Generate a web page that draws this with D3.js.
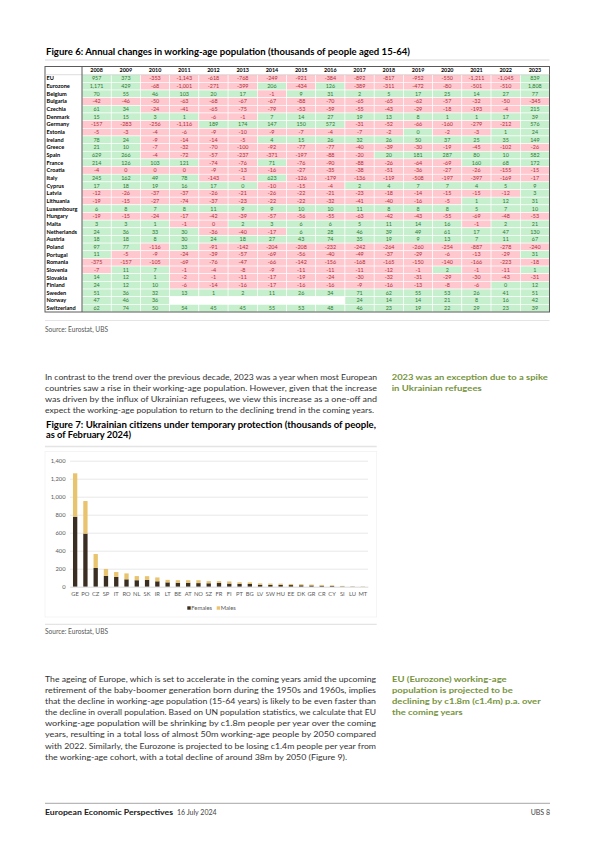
<!DOCTYPE html>
<html><head><meta charset="utf-8">
<script src="https://cdn.jsdelivr.net/npm/d3@7"></script>
<style>html,body{margin:0;padding:0;background:#fff}svg{display:block}</style>
</head><body>
<svg id="page" width="595" height="842"></svg>
<script>
// ---------- DATA: Figure 6 ----------
const years = [2008,2009,2010,2011,2012,2013,2014,2015,2016,2017,2018,2019,2020,2021,2022,2023];
const countries = ["EU","Eurozone","Belgium","Bulgaria","Czechia","Denmark","Germany","Estonia","Ireland","Greece","Spain","France","Croatia","Italy","Cyprus","Latvia","Lithuania","Luxembourg","Hungary","Malta","Netherlands","Austria","Poland","Portugal","Romania","Slovenia","Slovakia","Finland","Sweden","Norway","Switzerland"];
// -0 marks a value that rounds to 0 but was negative (shown pink)
const tableValues = [
  [957,373,-353,-1143,-618,-768,-249,-921,-384,-892,-817,-952,-550,-1211,-1045,839],
  [1171,429,-68,-1001,-271,-399,206,-434,126,-389,-311,-472,-80,-501,-510,1808],
  [70,55,46,103,20,17,-1,9,31,2,5,17,25,14,27,77],
  [-42,-46,-50,-63,-68,-67,-67,-88,-70,-65,-65,-62,-57,-32,-50,-345],
  [61,34,-24,-41,-65,-75,-79,-53,-59,-55,-43,-29,-18,-193,-4,215],
  [15,15,3,1,-6,-1,7,14,27,19,13,8,1,1,17,39],
  [-157,-283,-256,-1116,189,174,147,150,572,-31,-52,-66,-160,-279,-212,576],
  [-5,-3,-4,-6,-9,-10,-9,-7,-4,-7,-2,0,-2,-3,1,24],
  [78,24,-9,-14,-14,-5,4,15,26,32,26,50,37,25,35,149],
  [21,10,-7,-32,-70,-100,-92,-77,-77,-40,-39,-30,-19,-45,-102,-26],
  [629,266,-4,-72,-57,-237,-371,-197,-88,-20,20,181,287,80,10,582],
  [214,126,103,121,-74,-76,71,-76,-90,-88,-26,-64,-69,160,68,172],
  [-4,-0,-0,-0,-9,-13,-16,-27,-35,-38,-51,-36,-27,-26,-155,-15],
  [245,162,49,78,-143,-1,623,-126,-179,-136,-119,-508,-197,-397,-169,-17],
  [17,18,19,16,17,0,-10,-15,-4,2,4,7,7,4,5,9],
  [-12,-26,-37,-37,-26,-21,-26,-22,-21,-23,-18,-14,-15,-15,-12,3],
  [-19,-15,-27,-74,-37,-23,-22,-22,-32,-41,-40,-16,-5,1,12,31],
  [6,8,7,8,11,9,9,10,10,11,8,8,8,5,7,10],
  [-19,-15,-24,-17,-42,-39,-57,-56,-55,-63,-42,-43,-55,-69,-48,-53],
  [3,3,1,-1,-0,2,3,6,6,5,11,14,16,-1,2,21],
  [24,36,33,30,-36,-40,-17,6,28,46,39,49,61,17,47,130],
  [18,18,8,30,24,18,27,43,74,35,19,9,13,7,11,67],
  [97,77,-116,33,-91,-142,-204,-208,-232,-242,-264,-260,-254,-887,-278,-240],
  [11,-5,-9,-24,-39,-57,-69,-56,-40,-49,-37,-29,-6,-13,-29,31],
  [-375,-157,-105,-69,-76,-47,-66,-142,-156,-168,-165,-150,-140,-166,-223,-18],
  [-7,11,7,-1,-4,-8,-9,-11,-11,-11,-12,-1,2,-1,-11,1],
  [14,12,1,-2,-1,-11,-17,-19,-24,-30,-32,-31,-29,-30,-43,-31],
  [24,12,10,-6,-14,-16,-17,-16,-16,-9,-16,-13,-8,-6,0,12],
  [51,36,32,13,1,2,11,26,34,71,62,55,53,26,41,51],
  [47,46,36,null,null,null,null,null,null,24,14,14,21,8,16,42],
  [62,74,50,54,45,45,55,53,48,46,23,19,22,29,23,39]
];

// ---------- DATA: Figure 7 ----------
const refugeeCountries = ["GE","PO","CZ","SP","IT","RO","NL","SK","IR","LT","BE","AT","NO","SZ","FR","FI","PT","BG","LV","SW","HU","EE","DK","GR","CR","CY","SI","LU","MT"];
const females = [778,590,208,120,108,82,72,75,60,48,44,44,40,38,42,35,32,30,22,20,20,18,16,14,11,8,4,2,1];
const males   = [482,362,155,77,55,66,46,42,43,28,28,28,32,24,20,24,17,18,15,15,14,13,12,10,9,8,5,3,2];
const yTicks = [0,200,400,600,800,1000,1200,1400];
const seriesNames = ["Females","Males"];

// ---------- TEXT ----------
const para1 = [
  "In contrast to the trend over the previous decade, 2023 was a year when most European",
  "countries saw a rise in their working-age population. However, given that the increase",
  "was driven by the influx of Ukrainian refugees, we view this increase as a one-off and",
  "expect the working-age population to return to the declining trend in the coming years."
];
const note1 = ["2023 was an exception due to a spike","in Ukrainian refugees"];
const para2 = [
  "The ageing of Europe, which is set to accelerate in the coming years amid the upcoming",
  "retirement of the baby-boomer generation born during the 1950s and 1960s, implies",
  "that the decline in working-age population (15-64 years) is likely to be even faster than",
  "the decline in overall population. Based on UN population statistics, we calculate that EU",
  "working-age population will be shrinking by c1.8m people per year over the coming",
  "years, resulting in a total loss of almost 50m working-age people by 2050 compared",
  "with 2022. Similarly, the Eurozone is projected to be losing c1.4m people per year from",
  "the working-age cohort, with a total decline of around 38m by 2050 (Figure 9)."
];
const note2 = ["EU (Eurozone) working-age","population is projected to be","declining by c1.8m (c1.4m) p.a. over","the coming years"];

// ---------- HELPERS ----------
const svg = d3.select('#page');
svg.append('rect').attr('width',595).attr('height',842).attr('fill','#fff');
const FONT = 'Lato, "Open Sans", sans-serif';
function T(x, y, s, o = {}) {
  const t = (o.g || svg).append('text')
    .attr('x', x).attr('y', y).attr('dy', '0.35em')
    .attr('font-family', FONT).attr('font-size', o.size || 8)
    .attr('font-weight', o.bold ? 700 : 400)
    .attr('fill', o.fill || '#222')
    .attr('text-anchor', o.anchor || 'start')
    .text(s);
  if (o.w) t.attr('textLength', o.w).attr('lengthAdjust', 'spacingAndGlyphs');
  return t;
}
function L(x1, y1, x2, y2, stroke, w) {
  svg.append('line').attr('x1',x1).attr('y1',y1).attr('x2',x2).attr('y2',y2)
    .attr('stroke',stroke).attr('stroke-width',w);
}
const GREEN_NOTE = '#76943c';

// ---------- FIGURE 6 ----------
T(46, 52.3, "Figure 6: Annual changes in working-age population (thousands of people aged 15-64)",
  {size: 9, bold: true, fill: '#000', w: 364});
L(45, 60, 549.5, 60, '#e4e4e4', 1.5);

const tLeft = 45, tLabelRight = 82, tRight = 549.5, tTop = 66.5, hdrBottom = 74.7, tBottom = 312;
const xCol = d3.scaleBand().domain(years).range([tLabelRight, tRight]);
const yRow = d3.scaleBand().domain(countries).range([hdrBottom, tBottom]);
const isNeg = v => v < 0 || Object.is(v, -0);
const numFmt = v => (isNeg(v) && Math.round(v) !== 0 ? '-' : '') + d3.format(',')(Math.abs(Math.round(v)));

const tbl = svg.append('g');
// header
years.forEach(yr => T(xCol(yr) + xCol.bandwidth()/2, (tTop + hdrBottom)/2, String(yr),
  {g: tbl, size: 5.4, bold: true, anchor: 'middle', fill: '#000'}));
// cells
countries.forEach((c, i) => {
  const yy = yRow(c);
  T(tLeft + 1.5, yy + yRow.bandwidth()/2, c, {g: tbl, size: 5.6, bold: true, fill: '#000'});
  tableValues[i].forEach((v, j) => {
    const yr = years[j];
    const fill = v === null ? '#ffffff' : (isNeg(v) ? '#ffc7ce' : '#c6efce');
    tbl.append('rect').attr('x', xCol(yr)).attr('y', yy)
      .attr('width', xCol.bandwidth()).attr('height', yRow.bandwidth())
      .attr('fill', fill).attr('stroke', '#fff').attr('stroke-width', 0.6);
    if (v !== null) {
      T(xCol(yr) + xCol.bandwidth()/2, yy + yRow.bandwidth()/2, numFmt(v),
        {g: tbl, size: 5.4, anchor: 'middle', fill: isNeg(v) ? '#b0303a' : '#2f7a33'});
    }
  });
});
// borders
L(tLeft, hdrBottom, tRight, hdrBottom, '#bdbdbd', 0.5);
tbl.append('rect').attr('x', tLeft).attr('y', tTop).attr('width', tRight - tLeft).attr('height', tBottom - tTop)
  .attr('fill', 'none').attr('stroke', '#5a5a5a').attr('stroke-width', 1);
L(tLabelRight, tTop, tLabelRight, tBottom, '#5a5a5a', 1);

L(45, 320.5, 549.5, 320.5, '#e4e4e4', 1.2);
T(45, 329.5, "Source: Eurostat, UBS", {size: 6.6, fill: '#555', w: 63});

// paragraph 1
para1.forEach((s, i) => T(45, 376.6 + i * 11, s, {size: 8.3, fill: '#333', w: i < 3 ? 332 : 329}));
const n1w = [156, 90];
note1.forEach((s, i) => T(391.7, 376.6 + i * 11, s, {size: 8.3, bold: true, fill: GREEN_NOTE, w: n1w[i]}));

// ---------- FIGURE 7 ----------
T(46, 424.5, "Figure 7: Ukrainian citizens under temporary protection (thousands of people,",
  {size: 9, bold: true, fill: '#000', w: 330});
T(46, 435.2, "as of February 2024)", {size: 9, bold: true, fill: '#000', w: 85});
L(45, 446.5, 376.7, 446.5, '#e4e4e4', 1.5);
svg.append('rect').attr('x', 45).attr('y', 451.5).attr('width', 331.7).attr('height', 165.5)
  .attr('fill', 'none').attr('stroke', '#f0f0f0').attr('stroke-width', 0.7);

const x7 = d3.scaleBand().domain(refugeeCountries).range([70, 368]).paddingInner(0.58).paddingOuter(0.29);
const y7 = d3.scaleLinear().domain([0, 1400]).range([586.7, 460.7]);
const chart = svg.append('g');

const yAxis = d3.axisLeft(y7).tickValues(yTicks).tickFormat(d3.format(',')).tickSize(-(368 - 70)).tickPadding(4.5);
const yG = chart.append('g').attr('transform', 'translate(70,0)').call(yAxis);
yG.select('.domain').remove();
yG.selectAll('.tick line').attr('stroke', '#d9d9d9').attr('stroke-width', 0.6);
yG.selectAll('.tick text').attr('font-family', FONT).attr('font-size', 5.8).attr('fill', '#595959');

const stackData = refugeeCountries.map((c, i) => ({country: c, Females: females[i], Males: males[i]}));
const stacked = d3.stack().keys(seriesNames)(stackData);
const colors = d3.scaleOrdinal().domain(seriesNames).range(['#3a2d22', '#e9c46e']);
chart.selectAll('g.series').data(stacked).join('g').attr('class', 'series')
  .attr('fill', d => colors(d.key))
  .selectAll('rect').data(d => d).join('rect')
  .attr('x', d => x7(d.data.country)).attr('width', x7.bandwidth())
  .attr('y', d => y7(d[1])).attr('height', d => y7(d[0]) - y7(d[1]));

const xAxis = d3.axisBottom(x7).tickSize(0).tickPadding(5);
const xG = chart.append('g').attr('transform', `translate(0,${y7(0)})`).call(xAxis);
xG.select('.domain').attr('stroke', '#d9d9d9').attr('stroke-width', 0.6);
xG.selectAll('.tick text').attr('font-family', FONT).attr('font-size', 5.8).attr('fill', '#595959');

// legend
const legX = [187.3, 216.7];
seriesNames.forEach((k, i) => {
  svg.append('rect').attr('x', legX[i]).attr('y', 606.3).attr('width', 3.4).attr('height', 3.4).attr('fill', colors(k));
  T(legX[i] + 4, 608, k, {size: 5.8, fill: '#595959'});
});

L(45, 624.3, 376.7, 624.3, '#e4e4e4', 1.2);
T(45, 631.8, "Source: Eurostat, UBS", {size: 6.6, fill: '#555', w: 63});

// paragraph 2
para2.forEach((s, i) => T(45, 679.3 + i * 11.05, s, {size: 8.3, fill: '#333', w: i < 7 ? 331 : 302}));
const n2w = [114.7, 120.7, 148.7, 70.7];
note2.forEach((s, i) => T(392, 679.3 + i * 11.05, s, {size: 8.3, bold: true, fill: GREEN_NOTE, w: n2w[i]}));

// footer
L(45, 803.3, 550, 803.3, '#808080', 0.7);
T(45, 812.7, "European Economic Perspectives", {size: 7, bold: true, fill: '#222', w: 128});
T(177, 812.7, "16 July 2024", {size: 7, fill: '#444'});
T(550, 812.7, "UBS 8", {size: 7, fill: '#444', anchor: 'end'});
</script>
</body></html>
